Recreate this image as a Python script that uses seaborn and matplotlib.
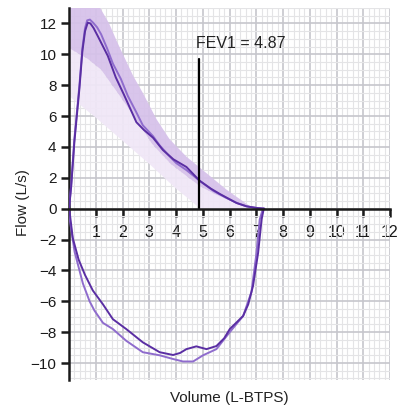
import numpy as np
import pandas as pd
import matplotlib
matplotlib.use("Agg")
import matplotlib.pyplot as plt
import seaborn as sns

# ---- data ----
exp_light_x = [0, 0.08, 0.2, 0.39, 0.5, 0.6, 0.68, 0.78, 0.9, 1.05, 1.2, 1.42, 1.64, 1.94, 2.2, 2.5, 2.76, 3.14, 3.39, 3.7, 4.01, 4.39, 4.89, 5.4, 5.89, 6.3, 6.64, 7.0, 7.3]
exp_light_y = [0, 1.5, 4.5, 8.0, 10.4, 11.7, 12.2, 12.25, 12.05, 11.75, 11.3, 10.4, 9.4, 8.4, 7.3, 6.3, 5.4, 4.7, 4.1, 3.5, 2.95, 2.5, 1.8, 1.15, 0.69, 0.35, 0.15, 0.05, 0.0]

exp_dark_x = [0, 0.08, 0.2, 0.39, 0.5, 0.6, 0.7, 0.8, 0.92, 1.07, 1.45, 1.75, 2.05, 2.31, 2.52, 2.8, 3.14, 3.51, 3.9, 4.39, 4.89, 5.3, 5.64, 6.26, 6.64, 7.0, 7.3]
exp_dark_y = [0, 1.4, 4.3, 7.8, 10.2, 11.5, 12.05, 12.0, 11.7, 11.2, 9.9, 8.5, 7.4, 6.4, 5.6, 5.1, 4.6, 3.8, 3.2, 2.7, 1.8, 1.3, 0.95, 0.37, 0.15, 0.05, 0.0]

insp_dark_x = [0, 0.02, 0.14, 0.36, 0.6, 0.89, 1.27, 1.64, 2.14, 2.76, 3.39, 3.89, 4.15, 4.39, 4.76, 5.14, 5.51, 5.8, 6.01, 6.51, 6.7, 6.88, 7.07, 7.2, 7.28]
insp_dark_y = [0, -0.17, -1.9, -3.3, -4.3, -5.3, -6.2, -7.16, -7.8, -8.66, -9.3, -9.48, -9.35, -9.1, -8.92, -9.1, -8.9, -8.4, -7.8, -6.95, -6.2, -5.0, -2.86, -0.7, 0.0]

insp_light_x = [0, 0.02, 0.21, 0.52, 0.77, 0.95, 1.27, 1.64, 2.14, 2.76, 3.39, 3.89, 4.26, 4.64, 5.01, 5.51, 6.01, 6.51, 6.82, 7.01, 7.13, 7.25]
insp_light_y = [0, -0.6, -2.8, -4.85, -6.0, -6.6, -7.4, -7.8, -8.56, -9.3, -9.5, -9.74, -9.9, -9.9, -9.5, -9.1, -8.0, -6.95, -5.4, -2.86, -0.7, 0.0]

# predicted-range bands
band_low_x = [0, 1, 2, 3, 4, 4.5, 4.9]
band_low_y = [7.3, 5.9, 4.4, 2.9, 1.3, 0.6, 0.0]
band_mid_x = [0, 0.7, 1.2, 1.9, 2.5, 3.1, 3.8, 4.4, 4.9, 5.5, 6.2, 6.8, 7.0]
band_mid_y = [10.4, 9.7, 9.0, 7.3, 5.8, 4.2, 2.9, 2.1, 1.45, 0.9, 0.4, 0.05, 0.0]
band_up_x = [0, 0.6, 1.1, 1.5, 1.8, 2.4, 2.76, 3.27, 3.76, 4.39, 5.14, 5.89, 6.51, 6.9]
band_up_y = [15, 14.5, 13.2, 12.0, 10.8, 8.6, 7.5, 5.8, 4.5, 3.37, 2.3, 1.23, 0.47, 0.0]

fev1 = 4.87
fev1_top = 9.7
x_ticks = list(range(1, 13))
y_ticks = list(range(-10, 13, 2))

# ---- figure ----
sns.set_theme(style="white")
plt.rcParams['font.family'] = ['Liberation Sans', 'DejaVu Sans']

fig = plt.figure(figsize=(4.04, 4.09), dpi=100)
ax = fig.add_axes([69/404, 1-380/409, (390-69)/404, (380-8)/409])

ax.set_xlim(0, 12)
ax.set_ylim(-11.1, 13.0)

# grids
ax.set_xticks(np.arange(0, 12.01, 0.2), minor=True)
ax.set_yticks(np.arange(-11, 13.01, 0.5), minor=True)
ax.set_xticks(x_ticks)
ax.set_yticks(y_ticks)
ax.grid(which='minor', color='#e4e4e6', linewidth=0.8, zorder=0)
ax.grid(which='major', color='#c6c6cc', linewidth=1.2, zorder=0)
ax.set_axisbelow(True)

# bands
light_poly_x = band_low_x + band_mid_x[::-1]
light_poly_y = band_low_y + band_mid_y[::-1]
ax.fill(light_poly_x, light_poly_y, color='#f0e7f7', alpha=0.93, lw=0, zorder=1)
dark_poly_x = band_mid_x + band_up_x[::-1]
dark_poly_y = band_mid_y + band_up_y[::-1]
ax.fill(dark_poly_x, dark_poly_y, color='#d6c1ea', alpha=0.93, lw=0, zorder=1)

# curves
c_light = '#8f6ccd'
c_dark = '#5a2ea3'
for xs, ys, c in [(exp_light_x, exp_light_y, c_light), (insp_light_x, insp_light_y, c_light),
                  (exp_dark_x, exp_dark_y, c_dark), (insp_dark_x, insp_dark_y, c_dark)]:
    df = pd.DataFrame({'v': xs, 'f': ys})
    sns.lineplot(data=df, x='v', y='f', sort=False, estimator=None, color=c, lw=1.4, ax=ax, zorder=3)

# FEV1 marker
ax.plot([fev1, fev1], [0, fev1_top], color='black', lw=1.6, zorder=4)
ax.text(4.76, 10.7, 'FEV1 = 4.87', ha='left', va='center', fontsize=11.5, color='#222222', zorder=5)

# spines
for s in ['top', 'right']:
    ax.spines[s].set_visible(False)
ax.spines['bottom'].set_position(('data', 0))
ax.spines['bottom'].set_linewidth(1.8)
ax.spines['left'].set_linewidth(1.8)
ax.spines['bottom'].set_color('#1a1a1a')
ax.spines['left'].set_color('#1a1a1a')
ax.spines['bottom'].set_zorder(4)

ax.tick_params(axis='x', which='major', direction='out', length=6, width=1.8, pad=6,
               labelsize=11.5, colors='#1a1a1a', bottom=True)
ax.tick_params(axis='y', which='major', direction='out', length=6, width=1.8, pad=3,
               labelsize=11, colors='#1a1a1a', left=True)
ax.tick_params(which='minor', length=0)
ax.set_xticklabels([str(v) for v in x_ticks])
ax.set_yticklabels([('\u2212' + str(-v)) if v < 0 else str(v) for v in y_ticks])
ax.set_xlabel('')
ax.set_ylabel('')

fig.text(23/404, 1-203/409, 'Flow (L/s)', rotation=90, ha='center', va='center',
         fontsize=11, color='#222222')
fig.text(229.5/404, 1-398/409, 'Volume (L-BTPS)', ha='center', va='center',
         fontsize=11, color='#222222')

fig.savefig('out.png', dpi=100)
